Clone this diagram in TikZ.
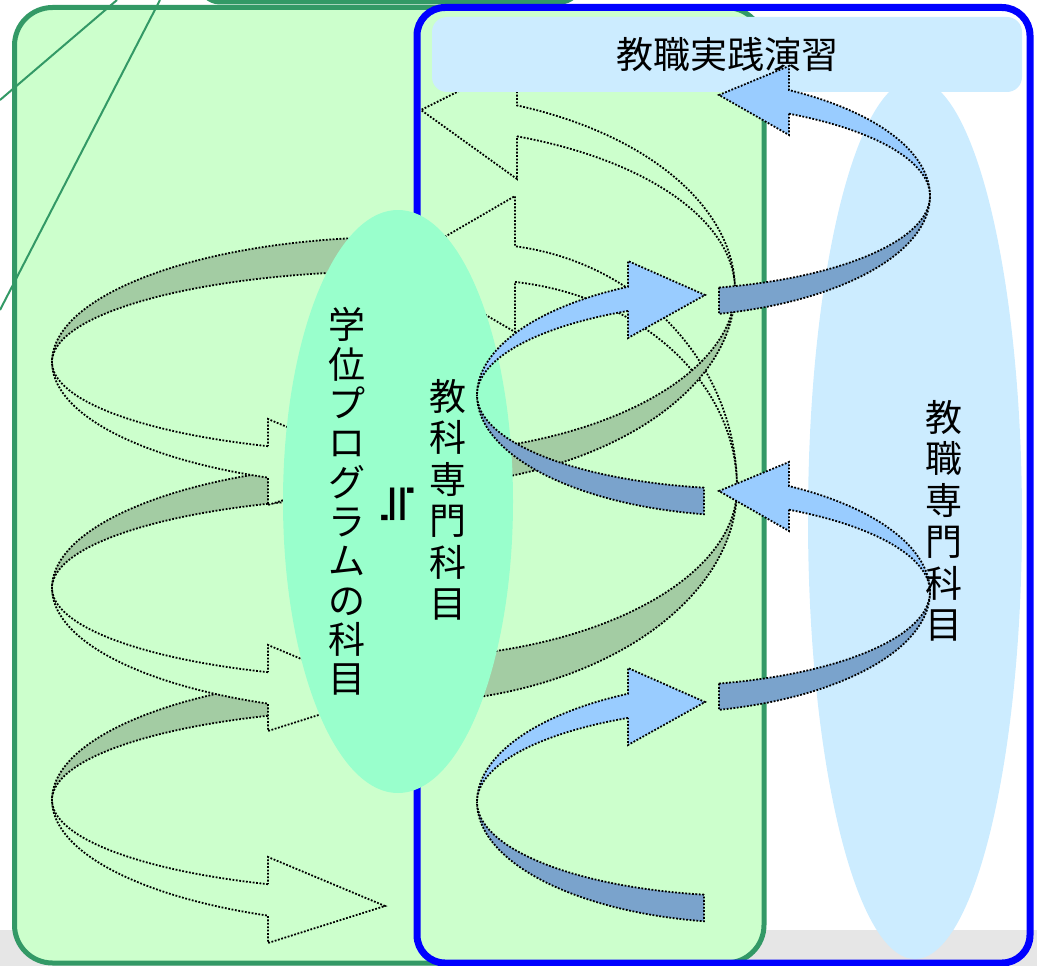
\documentclass[tikz,border=0pt]{standalone}
\usepackage{fontspec}
\newfontfamily\cjk{Noto Sans CJK JP}
\newfontfamily\symfont{DejaVu Sans}
\usepackage{tikz}
\usetikzlibrary{shapes.geometric}

\definecolor{boxgreen}{HTML}{CCFFCC}
\definecolor{edgegreen}{HTML}{339966}
\definecolor{backgreen}{HTML}{A3CCA3}
\definecolor{mint}{HTML}{99FFCC}
\definecolor{paleblue}{HTML}{CCECFF}
\definecolor{frontblue}{HTML}{99CCFF}
\definecolor{backblue}{HTML}{7AA3CC}
\definecolor{frameblue}{HTML}{0000FF}
\definecolor{stripgray}{HTML}{E6E6E6}

\tikzset{
  ribbon/.style={draw=black, line width=1.8pt, dash pattern=on 1.8pt off 1.6pt},
  gfront/.style={ribbon, fill=boxgreen},
  gback/.style={ribbon, fill=backgreen},
  bfront/.style={ribbon, fill=frontblue},
  bback/.style={ribbon, fill=backblue},
  vtext/.style={font=\cjk\fontsize{37}{#1}\selectfont, align=center, inner sep=0pt},
}

\begin{document}
\begin{tikzpicture}[x=1pt, y=-1pt]
  \useasboundingbox (0,0) rectangle (1037,966);

  % grey strip along the bottom
  \fill[stripgray] (0,930) rectangle (1037,966);

  % box cut off at the top edge
  \draw[edgegreen, line width=5pt, fill=white, rounded corners=20] (200,-40) rectangle (580,2);

  % green frame
  \draw[edgegreen, line width=5pt, fill=boxgreen, rounded corners=38] (14.5,7.5) rectangle (764,963);

  % lines coming in from outside
  \coordinate (leadA) at (0,100);
  \coordinate (leadB) at (0,310);
  \draw[edgegreen, line width=2pt] (leadA) -- (117,0);
  \draw[edgegreen, line width=2pt] (leadB) -- (160,0);

  % blue frame
  \draw[frameblue, line width=7pt, rounded corners=28] (417,7.5) rectangle (1030,963);

  % green spiral, right-hand turns (back to front)
  \draw[gback] (400,488) ++(80:337 and 170) arc[start angle=80, end angle=0, x radius=337, y radius=170]
    arc[start angle=0, end angle=80, x radius=337, y radius=215] -- cycle;
  \draw[gfront] (480,488) ++(-82.17:257 and 208) arc[start angle=-82.17, end angle=0, x radius=257, y radius=208]
    arc[start angle=0, end angle=-82.17, x radius=257, y radius=244] -- (515,196) -- (398,264) -- (515,332) -- cycle;
  \draw[gback] (400,290) ++(76:335 and 164) arc[start angle=76, end angle=0, x radius=335, y radius=164]
    arc[start angle=0, end angle=76, x radius=335, y radius=197] -- cycle;
  \draw[gfront] (400,290) ++(-69.56:335 and 164) arc[start angle=-69.56, end angle=0, x radius=335, y radius=164]
    arc[start angle=0, end angle=-69.56, x radius=335, y radius=197] -- (517,62) -- (421,110) -- (517,179) -- cycle;

  % green spiral, left-hand turns
  \foreach \cy in {800,588,362}{
    \draw[gback] (400,\cy) ++(265:348 and 91) arc[start angle=265, end angle=180, x radius=348, y radius=91]
      arc[start angle=180, end angle=265, x radius=348, y radius=125] -- cycle;
    \draw[gfront] (400,\cy) ++(112.29:348 and 91) arc[start angle=112.29, end angle=180, x radius=348, y radius=91]
      arc[start angle=180, end angle=112.29, x radius=348, y radius=125]
      -- (268,\cy+143) -- (385,\cy+106) -- (268,\cy+57) -- cycle;
  }

  % teaching subjects oval and practicum bar
  \node[ellipse, fill=paleblue, minimum width=214, minimum height=880, inner sep=0] (teachoval) at (915,519) {};
  \node[rectangle, rounded corners=15, fill=paleblue, minimum width=590, minimum height=75, inner sep=0,
        font=\cjk\fontsize{37}{40}\selectfont] (practice) at (727,54.5) {教職実践演習};

  % degree programme oval
  \node[ellipse, fill=mint, minimum width=230, minimum height=583, inner sep=0] (degreeoval) at (398,501.5) {};

  % blue spiral, left-hand turns
  \foreach \cy in {802,395}{
    \draw[bback] (750,\cy) ++(99.7:273 and 94) arc[start angle=99.7, end angle=180, x radius=273, y radius=94]
      arc[start angle=180, end angle=99.7, x radius=273, y radius=121] -- cycle;
    \draw[bfront] (750,\cy) ++(243.45:273 and 94) arc[start angle=243.45, end angle=180, x radius=273, y radius=94]
      arc[start angle=180, end angle=243.45, x radius=273, y radius=121]
      -- (628,\cy-134) -- (705,\cy-100) -- (628,\cy-57) -- cycle;
  }

  % blue spiral, right-hand turns
  \foreach \cy in {592,196}{
    \draw[bback] (657,\cy) ++(76.87:273 and 94) arc[start angle=76.87, end angle=0, x radius=273, y radius=94]
      arc[start angle=0, end angle=76.87, x radius=273, y radius=121] -- cycle;
    \draw[bfront] (657,\cy) ++(-61.08:273 and 94) arc[start angle=-61.08, end angle=0, x radius=273, y radius=94]
      arc[start angle=0, end angle=-61.08, x radius=273, y radius=121]
      -- (789,\cy-130) -- (719,\cy-101) -- (789,\cy-61) -- cycle;
  }

  % labels
  \node[vtext=39.3] (degreetext) at (347,501.5) {学\\位\\プ\\ロ\\グ\\ラ\\ム\\の\\科\\目};
  \node[font=\symfont\fontsize{52}{52}\selectfont, rotate=-90, inner sep=0] (approx) at (398,504) {≒};
  \node[vtext=41.5] (subjecttext) at (448,500) {教\\科\\専\\門\\科\\目};
  \node[vtext=41.5] (teachtext) at (944,521) {教\\職\\専\\門\\科\\目};
\end{tikzpicture}
\end{document}
